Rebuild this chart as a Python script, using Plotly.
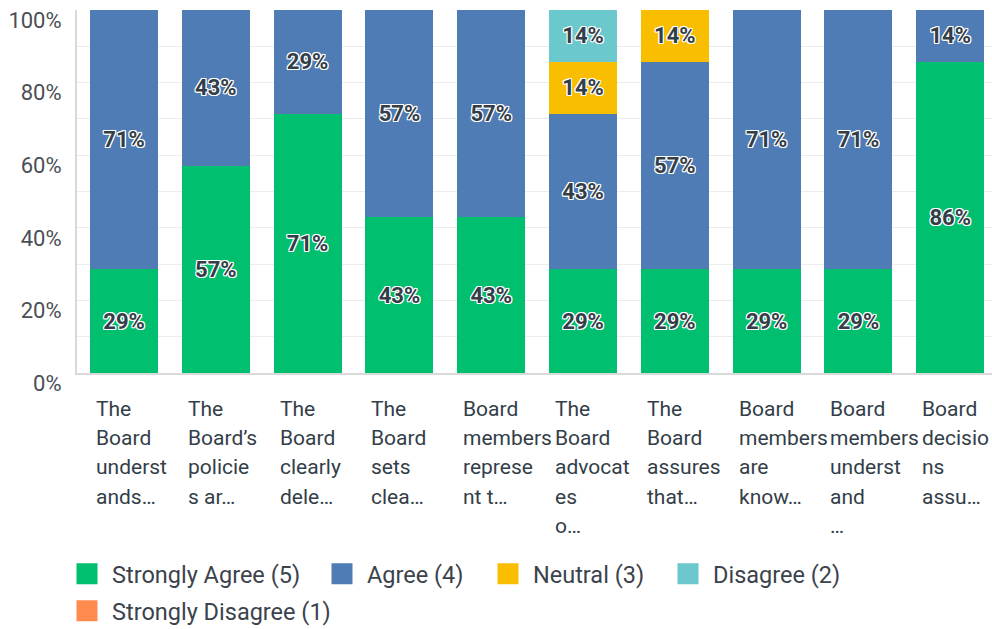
import plotly.graph_objects as go

# ---- data ----
categories = [
    "The Board understands…",
    "The Board’s policies ar…",
    "The Board clearly dele…",
    "The Board sets clea…",
    "Board members represent t…",
    "The Board advocates o…",
    "The Board assures that…",
    "Board members are know…",
    "Board members understand …",
    "Board decisions assu…",
]
label_lines = [
    ["The", "Board", "underst", "ands…"],
    ["The", "Board’s", "policie", "s ar…"],
    ["The", "Board", "clearly", "dele…"],
    ["The", "Board", "sets", "clea…"],
    ["Board", "members", "represe", "nt t…"],
    ["The", "Board", "advocat", "es", "o…"],
    ["The", "Board", "assures", "that…"],
    ["Board", "members", "are", "know…"],
    ["Board", "members", "underst", "and", "…"],
    ["Board", "decisio", "ns", "assu…"],
]
strongly_agree = [28.57, 57.14, 71.43, 42.86, 42.86, 28.57, 28.57, 28.57, 28.57, 85.71]
agree = [71.43, 42.86, 28.57, 57.14, 57.14, 42.86, 57.14, 71.43, 71.43, 14.29]
neutral = [None, None, None, None, None, 14.29, 14.29, None, None, None]
disagree = [None, None, None, None, None, 14.29, None, None, None, None]
strongly_disagree = [None] * 10

series_names = ["Strongly Agree (5)", "Agree (4)", "Neutral (3)", "Disagree (2)", "Strongly Disagree (1)"]
series_values = [strongly_agree, agree, neutral, disagree, strongly_disagree]
series_colors = ["#00bf6f", "#507cb6", "#f9be00", "#6bc8cd", "#ff8b4f"]

y_ticks = [0, 20, 40, 60, 80, 100]
y_tick_text = ["0%", "20%", "40%", "60%", "80%", "100%"]

TEXT = "#333e48"
FONT = "Roboto, 'Noto Sans', sans-serif"
outline = ("1px 0 0 #fff, -1px 0 0 #fff, 0 1px 0 #fff, 0 -1px 0 #fff, "
           "1px 1px 0 #fff, -1px -1px 0 #fff, 1px -1px 0 #fff, -1px 1px 0 #fff")

legend_ids = ["legend", "legend2", "legend3", "legend4", "legend5"]

fig = go.Figure()
for name, vals, col in zip(series_names, series_values, series_colors):
    fig.add_trace(go.Bar(
        x=categories, y=vals, name=name, marker=dict(color=col, line=dict(width=0)),
        texttemplate="%{y:.0f}%", textposition="inside", insidetextanchor="middle",
        textangle=0,
        textfont=dict(family=FONT, size=22, color=TEXT, weight="bold", shadow=outline),
        showlegend=False, hoverinfo="skip",
    ))
# legend entries (one legend box per entry so each sits where the original puts it)
for name, col, lid in zip(series_names, series_colors, legend_ids):
    fig.add_trace(go.Scatter(
        x=[None], y=[None], mode="markers", name=name, legend=lid,
        marker=dict(symbol="square", size=16, color=col, line=dict(width=5, color=col)),
        showlegend=True,
    ))

# wrapped, left-aligned category labels
for cat, lines in zip(categories, label_lines):
    for i, line in enumerate(lines):
        fig.add_annotation(
            x=cat, xref="x", y=0, yref="paper", text=line, showarrow=False,
            xanchor="left", yanchor="middle", align="left",
            xshift=-30, yshift=-36 - 29.2 * i,
            font=dict(family=FONT, size=21, color=TEXT),
        )

legend_common = dict(
    orientation="h", xanchor="left", xref="container", yref="container",
    yanchor="middle", font=dict(family=FONT, size=23.5, color="#3b434c"),
    itemwidth=40, itemsizing="trace", itemclick=False, itemdoubleclick=False,
    bgcolor="rgba(0,0,0,0)",
)
legend_x_px = [62, 317, 483, 663, 62]
legend_y_px = [574, 574, 574, 574, 611]
legend_layout = {}
for lid, lx, ly in zip(legend_ids, legend_x_px, legend_y_px):
    legend_layout[lid] = dict(legend_common, x=lx / 992, y=1 - ly / 629)

fig.update_layout(
    width=992, height=629,
    margin=dict(l=77, r=0, t=10, b=256),
    barmode="stack", bargap=0.259,
    plot_bgcolor="#ffffff", paper_bgcolor="#ffffff",
    font=dict(family=FONT, size=19, color=TEXT),
    xaxis=dict(
        type="category", range=[-0.512, 9.455], showticklabels=False,
        showgrid=False, showline=True, linecolor="#d9d9d9", linewidth=2,
        ticks="", zeroline=False, fixedrange=True, automargin=False,
    ),
    yaxis=dict(
        range=[0, 100], tickmode="array", tickvals=y_ticks, ticktext=y_tick_text,
        showgrid=True, gridcolor="#ececec", gridwidth=1,
        minor=dict(dtick=10, showgrid=True, gridcolor="#ececec", gridwidth=1),
        showline=True, linecolor="#d9d9d9", linewidth=2,
        ticks="", ticklabelstandoff=9, ticklabelshift=10,
        ticklabeloverflow="allow", automargin=False,
        tickfont=dict(family=FONT, size=22, color="#4a4f55"),
        zeroline=False, fixedrange=True,
    ),
    **legend_layout,
)

fig.write_html("out.html")
